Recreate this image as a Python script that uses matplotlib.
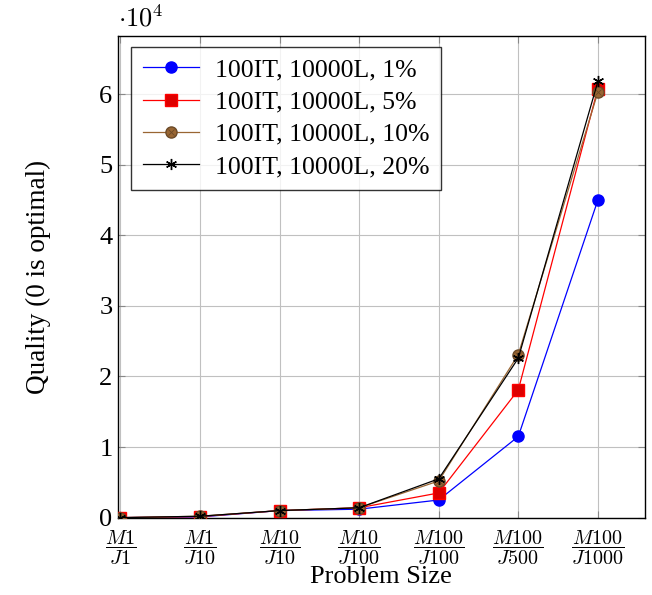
import matplotlib
matplotlib.use("Agg")
import matplotlib.pyplot as plt
from matplotlib.legend_handler import HandlerTuple

plt.rcParams['font.family'] = ['Liberation Serif', 'DejaVu Serif']
plt.rcParams['mathtext.fontset'] = 'cm'

categories = [r'$\dfrac{M1}{J1}$', r'$\dfrac{M1}{J10}$', r'$\dfrac{M10}{J10}$', r'$\dfrac{M10}{J100}$',
              r'$\dfrac{M100}{J100}$', r'$\dfrac{M100}{J500}$', r'$\dfrac{M100}{J1000}$']
s1 = [0, 100, 1000, 1200, 2500, 11500, 45000]
s5 = [0, 150, 1000, 1400, 3500, 18100, 60800]
s10 = [0, 200, 1000, 1400, 5200, 23100, 60300]
s20 = [0, 200, 1000, 1400, 5500, 22600, 61800]
labels = ['100IT, 10000L, 1%', '100IT, 10000L, 5%', '100IT, 10000L, 10%', '100IT, 10000L, 20%']

fig = plt.figure(figsize=(6.52, 5.95), dpi=100)
ax = fig.add_axes([0.181, 0.13, 0.808, 0.809])
x = list(range(len(categories)))
h1, = ax.plot(x, [v / 1e4 for v in s1], color='blue', lw=0.9, marker='o', ms=8,
              mfc='blue', mec='blue', zorder=3)
h2, = ax.plot(x, [v / 1e4 for v in s5], color='red', lw=0.9, marker='s', ms=8,
              mfc='#dd0000', mec='red', zorder=3)
h3, = ax.plot(x, [v / 1e4 for v in s10], color='#996633', lw=0.9, marker='o', ms=8,
              mfc='#996633', mec='#6b4a28', zorder=3)
h3x, = ax.plot(x, [v / 1e4 for v in s10], ls='none', marker='x', ms=5, mew=0.6,
               mec='#6b4a28', zorder=3)
h4, = ax.plot(x, [v / 1e4 for v in s20], color='black', lw=0.9, marker=(6, 2, 0), ms=8,
              mec='black', zorder=4)

ax.set_xlim(-0.03, 6.59)
ax.set_ylim(0, 6.82)
ax.set_xticks(x)
ax.set_xticklabels(categories, fontsize=14.5)
ax.set_yticks(range(0, 7))
ax.set_yticklabels([str(i) for i in range(0, 7)], fontsize=19)
ax.grid(True, color='#c0c0c0', lw=0.8)
ax.set_axisbelow(True)
ax.tick_params(direction='in', length=5, color='#888888', top=True, right=True, pad=4)
ax.tick_params(axis='x', pad=8)
for sp in ax.spines.values():
    sp.set_linewidth(1.0)
ax.set_xlabel('Problem Size', fontsize=19, labelpad=-1)
ax.set_ylabel('Quality (0 is optimal)', fontsize=19.5, labelpad=35)
ax.text(0.0, 1.01, r'$\cdot 10^4$', transform=ax.transAxes, fontsize=19, ha='left', va='bottom')

leg = ax.legend([h1, h2, (h3, h3x), h4], labels, handler_map={tuple: HandlerTuple(ndivide=1, pad=0)},
                loc='upper left', bbox_to_anchor=(0.025, 0.978), fontsize=18.5, frameon=True,
                fancybox=False, edgecolor='black', handlelength=2.2, borderpad=0.45,
                labelspacing=0.36, handletextpad=0.6, borderaxespad=0)
leg.get_frame().set_linewidth(1.0)

fig.savefig('out.png', dpi=100)
